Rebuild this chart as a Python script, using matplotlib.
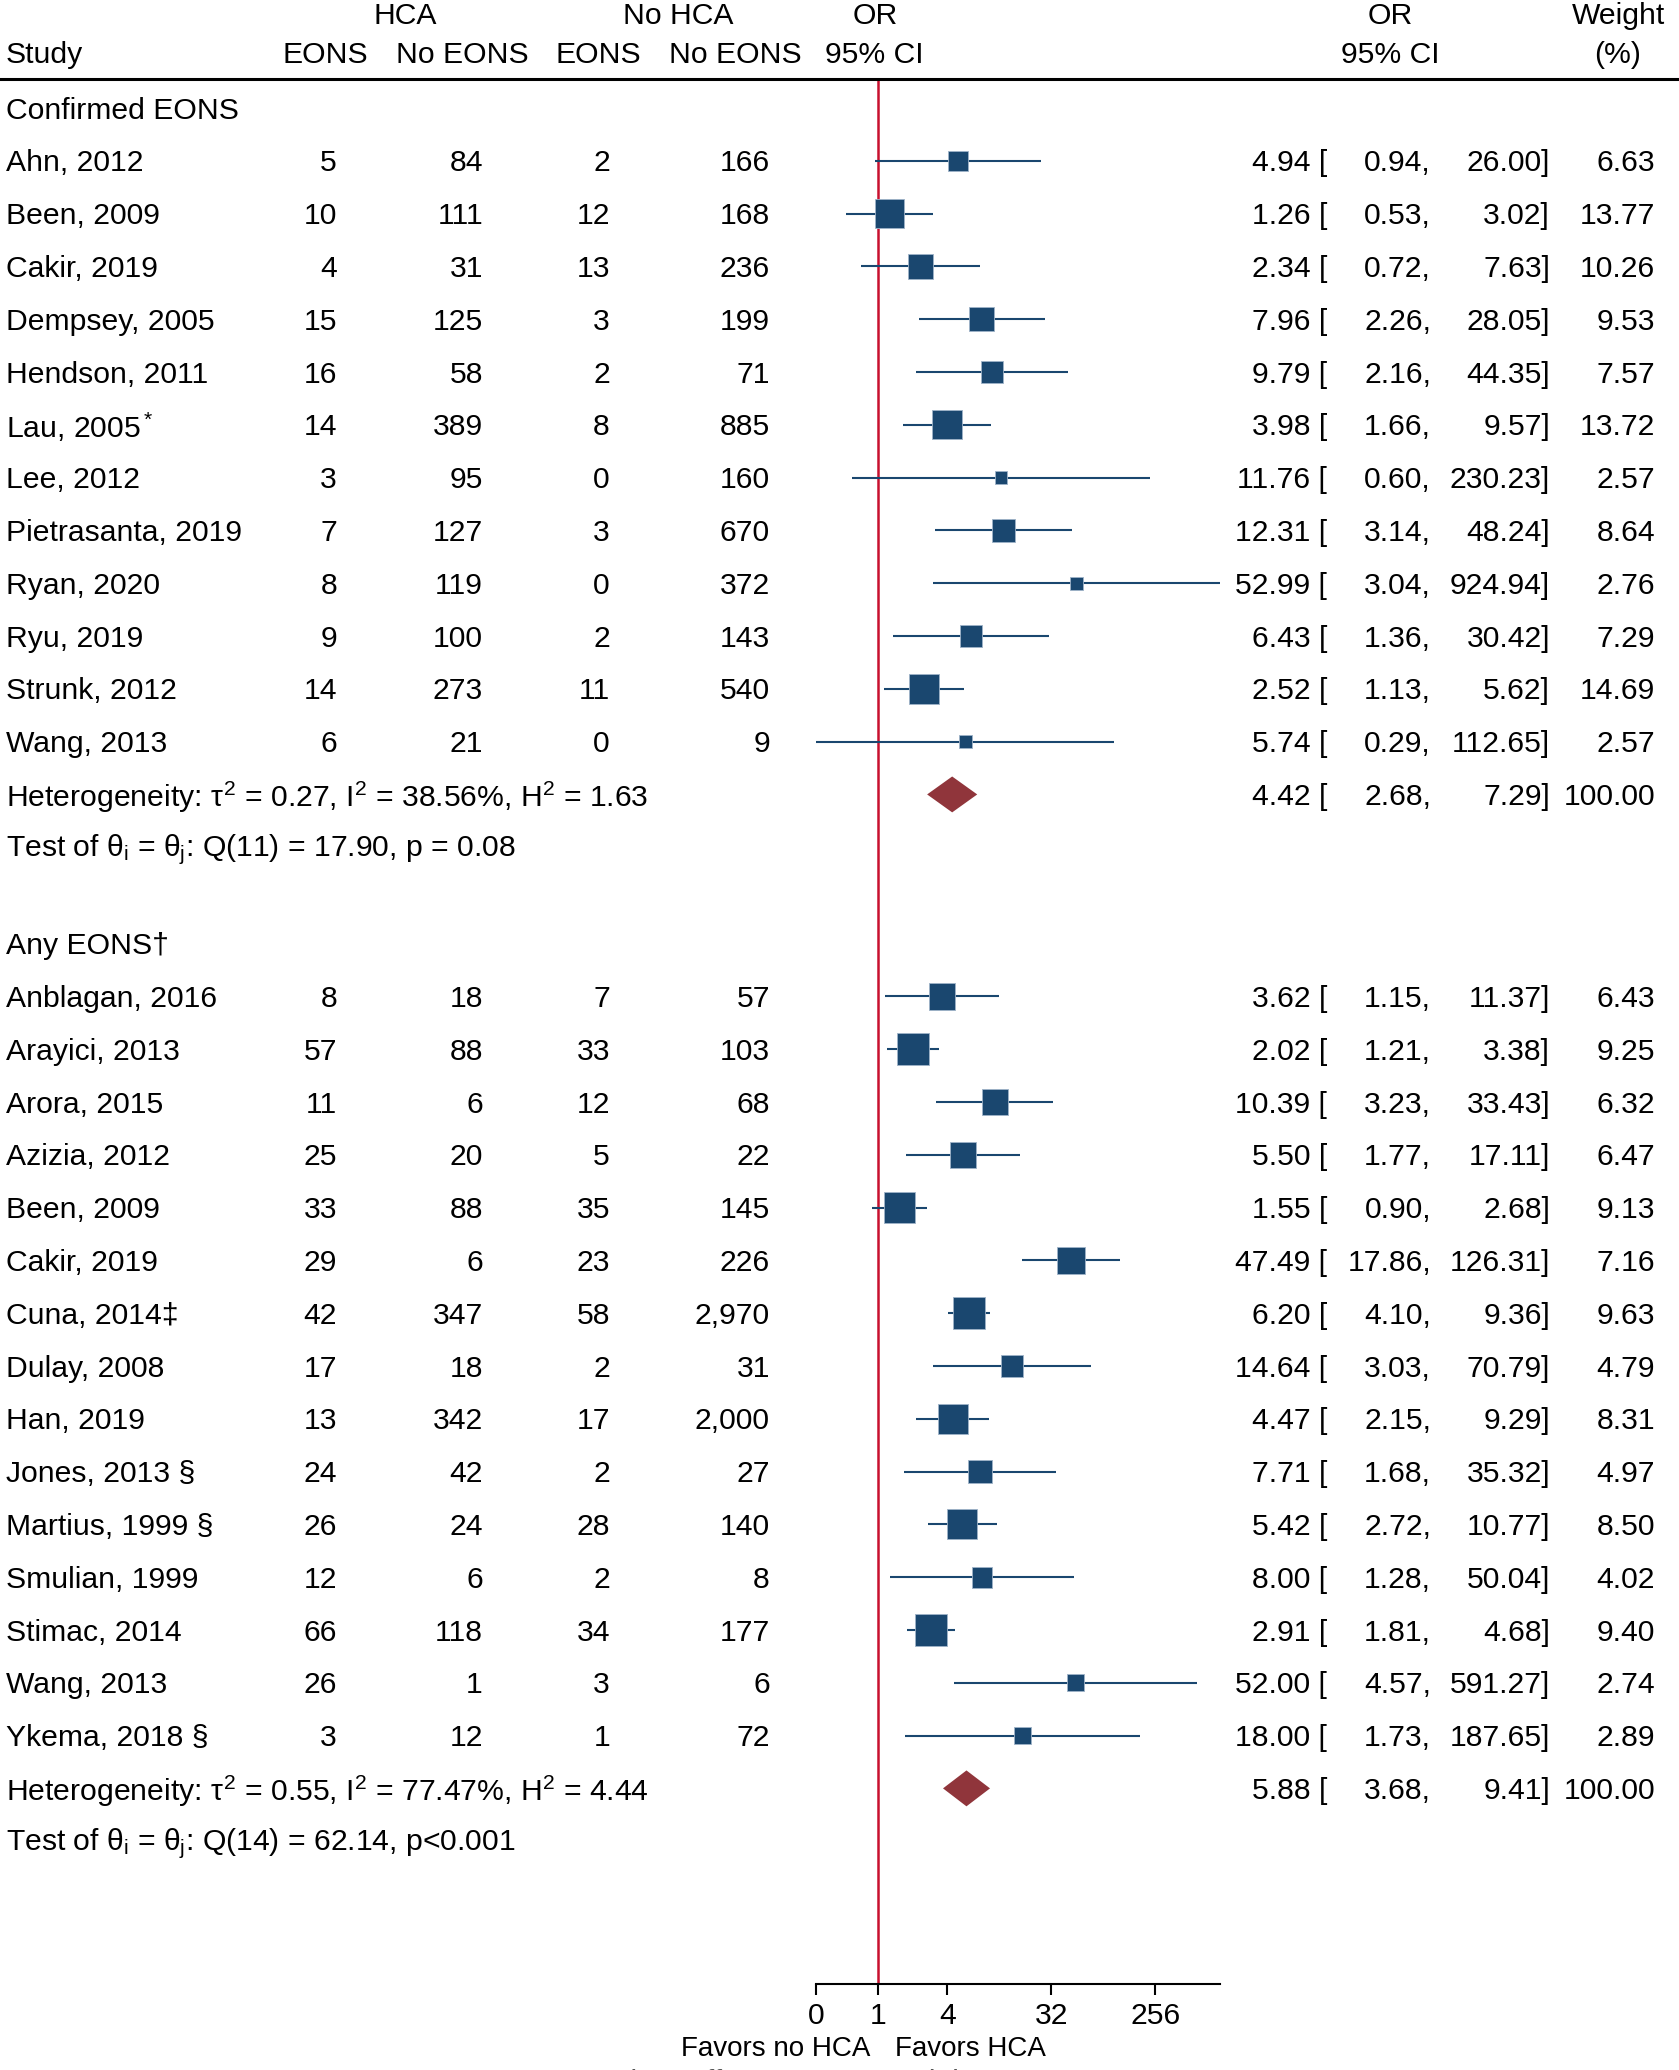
import numpy as np
import matplotlib.pyplot as plt
from matplotlib.transforms import blended_transform_factory
from matplotlib.lines import Line2D

plt.rcParams['font.family'] = ['Liberation Sans', 'DejaVu Sans']
plt.rcParams['mathtext.fontset'] = 'custom'
plt.rcParams['mathtext.rm'] = 'Liberation Sans'
plt.rcParams['mathtext.it'] = 'Liberation Sans'
plt.rcParams['mathtext.sf'] = 'Liberation Sans'

# ---- data ----
g1_study = ['Ahn, 2012', 'Been, 2009', 'Cakir, 2019', 'Dempsey, 2005', 'Hendson, 2011',
            'Lau, 2005$^*$', 'Lee, 2012', 'Pietrasanta, 2019', 'Ryan, 2020', 'Ryu, 2019',
            'Strunk, 2012', 'Wang, 2013']
g1_hca_e = [5, 10, 4, 15, 16, 14, 3, 7, 8, 9, 14, 6]
g1_hca_n = [84, 111, 31, 125, 58, 389, 95, 127, 119, 100, 273, 21]
g1_no_e = [2, 12, 13, 3, 2, 8, 0, 3, 0, 2, 11, 0]
g1_no_n = [166, 168, 236, 199, 71, 885, 160, 670, 372, 143, 540, 9]
g1_or = [4.94, 1.26, 2.34, 7.96, 9.79, 3.98, 11.76, 12.31, 52.99, 6.43, 2.52, 5.74]
g1_lo = [0.94, 0.53, 0.72, 2.26, 2.16, 1.66, 0.60, 3.14, 3.04, 1.36, 1.13, 0.29]
g1_hi = [26.00, 3.02, 7.63, 28.05, 44.35, 9.57, 230.23, 48.24, 924.94, 30.42, 5.62, 112.65]
g1_w = [6.63, 13.77, 10.26, 9.53, 7.57, 13.72, 2.57, 8.64, 2.76, 7.29, 14.69, 2.57]
g1_pooled = (4.42, 2.68, 7.29)
g1_het = r'Heterogeneity: $\tau^2$ = 0.27, I$^2$ = 38.56%, H$^2$ = 1.63'
g1_test = r'Test of $\theta_\mathrm{i}$ = $\theta_\mathrm{j}$: Q(11) = 17.90, p = 0.08'

g2_study = ['Anblagan, 2016', 'Arayici, 2013', 'Arora, 2015', 'Azizia, 2012', 'Been, 2009',
            'Cakir, 2019', 'Cuna, 2014\u2021', 'Dulay, 2008', 'Han, 2019', 'Jones, 2013 \u00a7',
            'Martius, 1999 \u00a7', 'Smulian, 1999', 'Stimac, 2014', 'Wang, 2013', 'Ykema, 2018 \u00a7']
g2_hca_e = [8, 57, 11, 25, 33, 29, 42, 17, 13, 24, 26, 12, 66, 26, 3]
g2_hca_n = [18, 88, 6, 20, 88, 6, 347, 18, 342, 42, 24, 6, 118, 1, 12]
g2_no_e = [7, 33, 12, 5, 35, 23, 58, 2, 17, 2, 28, 2, 34, 3, 1]
g2_no_n = [57, 103, 68, 22, 145, 226, 2970, 31, 2000, 27, 140, 8, 177, 6, 72]
g2_or = [3.62, 2.02, 10.39, 5.50, 1.55, 47.49, 6.20, 14.64, 4.47, 7.71, 5.42, 8.00, 2.91, 52.00, 18.00]
g2_lo = [1.15, 1.21, 3.23, 1.77, 0.90, 17.86, 4.10, 3.03, 2.15, 1.68, 2.72, 1.28, 1.81, 4.57, 1.73]
g2_hi = [11.37, 3.38, 33.43, 17.11, 2.68, 126.31, 9.36, 70.79, 9.29, 35.32, 10.77, 50.04, 4.68, 591.27, 187.65]
g2_w = [6.43, 9.25, 6.32, 6.47, 9.13, 7.16, 9.63, 4.79, 8.31, 4.97, 8.50, 4.02, 9.40, 2.74, 2.89]
g2_pooled = (5.88, 3.68, 9.41)
g2_het = r'Heterogeneity: $\tau^2$ = 0.55, I$^2$ = 77.47%, H$^2$ = 4.44'
g2_test = r'Test of $\theta_\mathrm{i}$ = $\theta_\mathrm{j}$: Q(14) = 62.14, p<0.001'

xticks = [0.29, 1, 4, 32, 256]
xtick_labels = ['0', '1', '4', '32', '256']
xlim = (0.29, 924.94)

navy = '#1a476f'
maroon = '#90353b'
red = '#c8102e'
FS = 21.7
DY = 0.05  # text baseline nudge (rows)

W, H = 1679, 2070
fig = plt.figure(figsize=(W / 100, H / 100), dpi=100)
ax = fig.add_axes([815.8 / W, 1 - 1984 / H, (1219.7 - 815.8) / W, (1984 - 79) / H])
ax.set_xscale('log', base=2)
ax.set_xlim(*xlim)
ax.set_ylim(35.53, -0.55)
for s in ['top', 'left', 'right']:
    ax.spines[s].set_visible(False)
ax.spines['bottom'].set_linewidth(1.5)
ax.set_yticks([])
ax.set_xticks(xticks)
ax.set_xticklabels(xtick_labels, fontsize=FS)
ax.minorticks_off()
ax.tick_params(axis='x', length=7.7, width=1.5, pad=5)
ax.axvline(1, color=red, lw=1.8, zorder=1)

tr = blended_transform_factory(fig.transFigure, ax.transData)


def col(x, y, s, ha='right'):
    fig.text(x / W, y + DY, s, transform=tr, ha=ha, va='center', fontsize=FS)


# header
for x, s in [(405, 'HCA'), (678, 'No HCA'), (875, 'OR'), (1390, 'OR'), (1618, 'Weight')]:
    col(x, -1.8, s, ha='center')
col(6, -1.05, 'Study', ha='left')
for x, s in [(325, 'EONS'), (462, 'No EONS'), (598, 'EONS'), (735, 'No EONS'),
             (874, '95% CI'), (1390, '95% CI'), (1618, '(%)')]:
    col(x, -1.05, s, ha='center')
fig.add_artist(Line2D([0, 1], [1 - 79 / H, 1 - 79 / H], color='black', lw=2.2,
                      transform=fig.transFigure))


def group(label, y0, study, he, hn, ne, nn, orr, lo, hi, w, pooled, het, test, scale):
    col(6, y0, label, ha='left')
    ys = y0 + 1 + np.arange(len(study))
    for i, y in enumerate(ys):
        col(6, y, study[i], ha='left')
        col(337, y, f'{he[i]:,}')
        col(483, y, f'{hn[i]:,}')
        col(610, y, f'{ne[i]:,}')
        col(770, y, f'{nn[i]:,}')
        col(1327, y, f'{orr[i]:.2f} [')
        col(1431, y, f'{lo[i]:.2f},')
        col(1550, y, f'{hi[i]:.2f}]')
        col(1655, y, f'{w[i]:.2f}')
    ax.hlines(ys, lo, hi, color=navy, lw=1.5, zorder=2)
    side = scale * np.sqrt(np.array(w)) * 0.72
    ax.scatter(orr, ys, marker='s', s=side ** 2, color=navy, edgecolor='#9fb3c8',
               linewidth=0.6, zorder=3)
    yp = ys[-1] + 1
    p, plo, phi = pooled
    ax.fill([plo, p, phi, p], [yp, yp - 0.34, yp, yp + 0.34], color=maroon, zorder=3, lw=0)
    col(6, yp, het, ha='left')
    col(1327, yp, f'{p:.2f} [')
    col(1431, yp, f'{plo:.2f},')
    col(1550, yp, f'{phi:.2f}]')
    col(1655, yp, '100.00')
    col(6, yp + 1, test, ha='left')


group('Confirmed EONS', 0, g1_study, g1_hca_e, g1_hca_n, g1_no_e, g1_no_n,
      g1_or, g1_lo, g1_hi, g1_w, g1_pooled, g1_het, g1_test, 7.9)
group('Any EONS\u2020', 15.825, g2_study, g2_hca_e, g2_hca_n, g2_no_e, g2_no_n,
      g2_or, g2_lo, g2_hi, g2_w, g2_pooled, g2_het, g2_test, 10.35)

btr = blended_transform_factory(ax.transData, fig.transFigure)
ax.text(0.87, 1 - 2049 / H, 'Favors no HCA', transform=btr, ha='right', va='center', fontsize=20)
ax.text(1.41, 1 - 2049 / H, 'Favors HCA', transform=btr, ha='left', va='center', fontsize=20)
fig.text(565 / W, 1 - 2083 / H, 'Random-effects REML model', ha='left', va='center',
         fontsize=FS, color='#555555')

fig.savefig('out.png', dpi=100)
